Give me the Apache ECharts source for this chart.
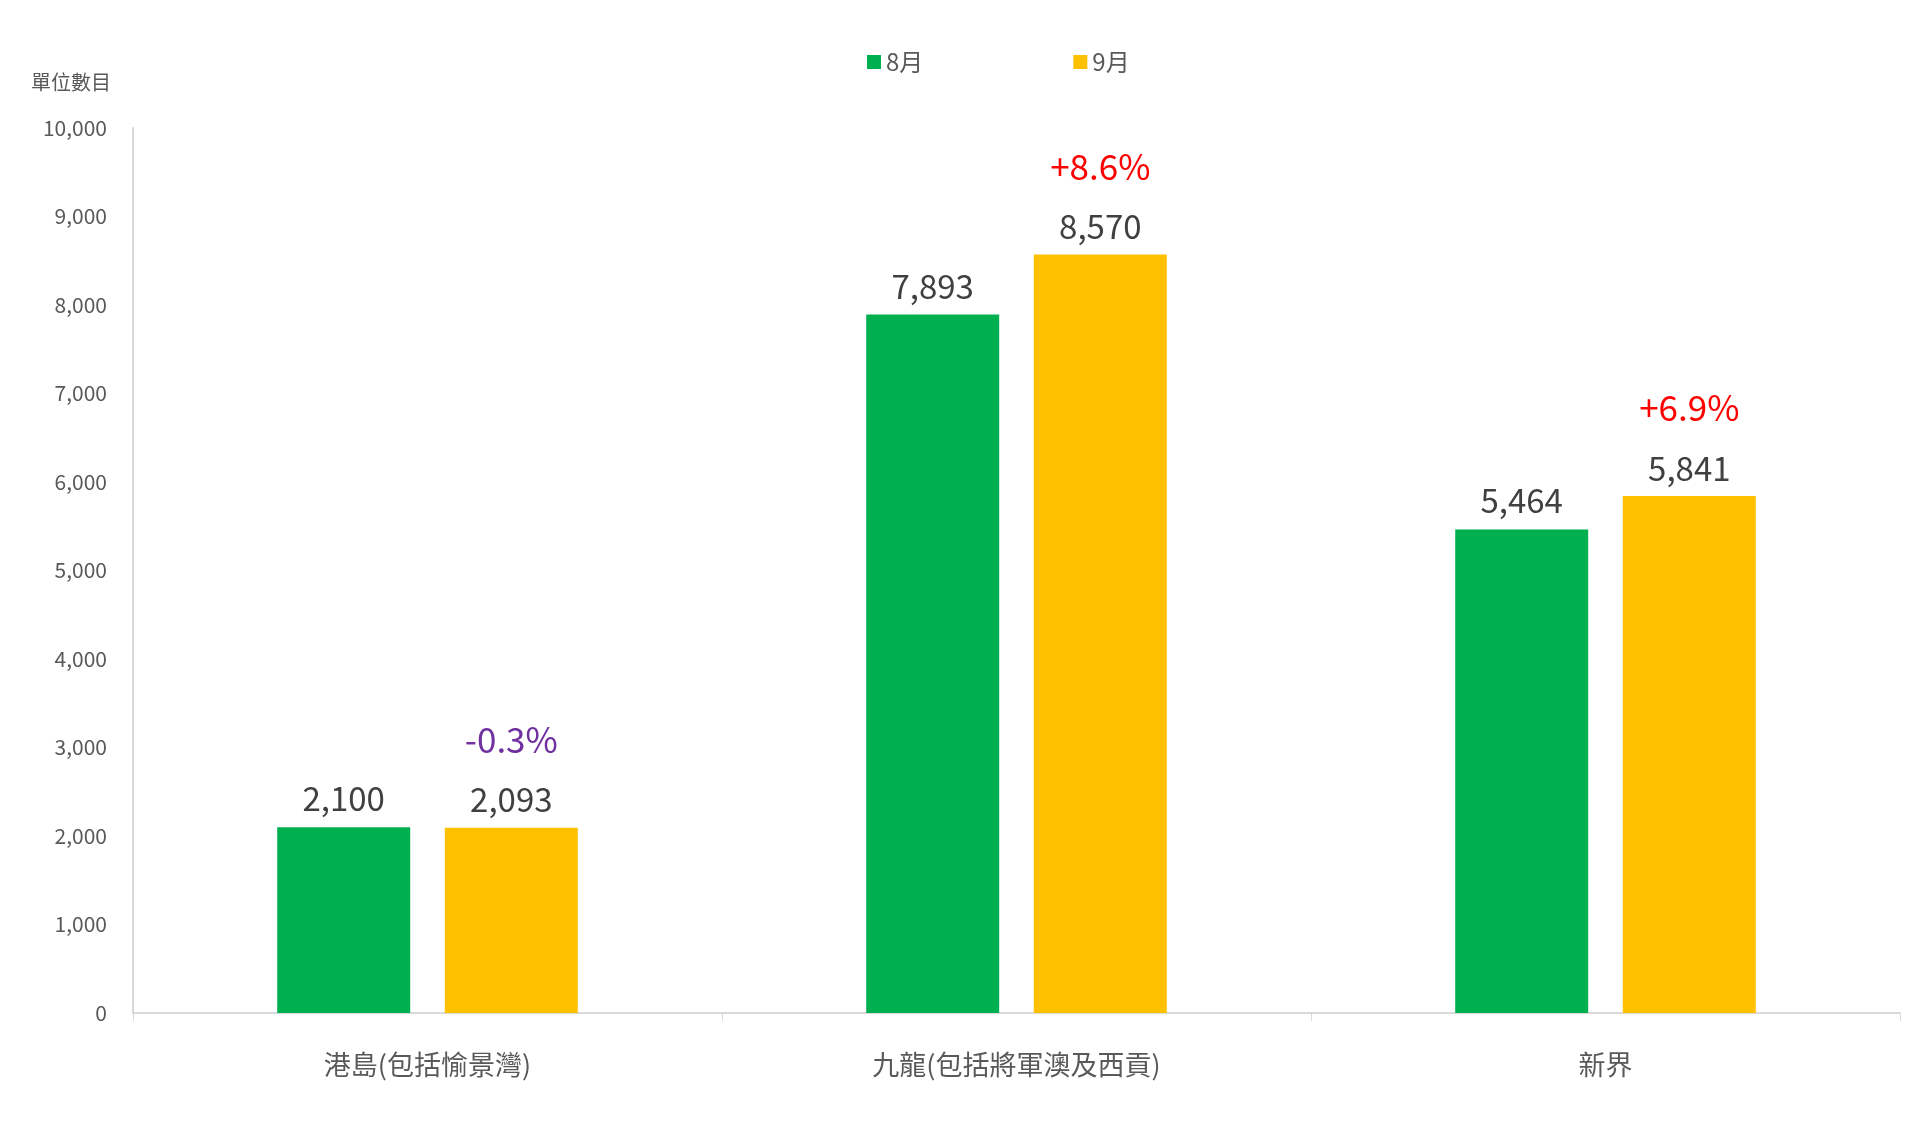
<!DOCTYPE html><html><head><meta charset="utf-8"><script src="https://cdn.jsdelivr.net/npm/echarts@6/dist/echarts.min.js"></script>
<style>html,body{margin:0;background:#fff}#c{width:1920px;height:1127px}</style></head><body><div id="c"></div><script>
const categories=['港島(包括愉景灣)','九龍(包括將軍澳及西貢)','新界'];
const aug=[2100,7893,5464];
const sep=[2093,8570,5841];
const pct=['-0.3%','+8.6%','+6.9%'];
const pctColor=['#7030A0','#FF0000','#FF0000'];
const font='"Noto Sans CJK TC","Noto Sans",sans-serif';
const c=echarts.init(document.getElementById('c'));
c.setOption({
 animation:false,
 textStyle:{fontFamily:font},
 legend:{top:45,left:862,itemGap:150,itemWidth:14,itemHeight:14,icon:'rect',textStyle:{fontSize:24,color:'#595959'},data:['8月','9月']},
 grid:{left:133,right:20,top:128,bottom:114,containLabel:false},
 xAxis:{type:'category',data:categories,axisLine:{lineStyle:{color:'#d9d9d9',width:2}},axisTick:{show:true,length:8,lineStyle:{color:'#d9d9d9'}},axisLabel:{fontSize:27,color:'#595959',margin:38}},
 yAxis:{type:'value',min:0,max:10000,interval:1000,name:'單位數目',nameLocation:'end',nameGap:36,nameTextStyle:{fontSize:20,color:'#595959',align:'left',padding:[0,0,0,-102]},
  axisLine:{show:true,lineStyle:{color:'#d9d9d9',width:2}},axisTick:{show:false},splitLine:{show:false},
  axisLabel:{fontSize:21,color:'#595959',margin:26,formatter:v=>v.toLocaleString('en-US')}},
 series:[
  {name:'8月',type:'bar',data:aug,barWidth:133,barGap:'26%',itemStyle:{color:'#00B050'},
   label:{show:true,position:'top',distance:12,fontSize:33,color:'#404040',formatter:p=>p.value.toLocaleString('en-US')}},
  {name:'9月',type:'bar',data:sep.map((v,i)=>({value:v,label:{rich:{p:{fontSize:35,color:pctColor[i],lineHeight:80},v:{fontSize:33,color:'#404040',lineHeight:40}}}})),barWidth:133,itemStyle:{color:'#FFC000'},
   label:{show:true,position:'top',distance:8,formatter:p=>'{p|'+pct[p.dataIndex]+'}\n{v|'+p.value.toLocaleString('en-US')+'}'}}
 ]
});
</script></body></html>
